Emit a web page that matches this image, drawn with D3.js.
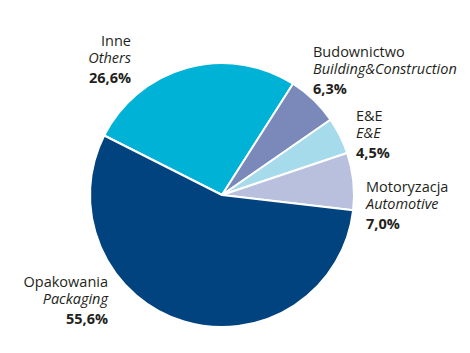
<!DOCTYPE html>
<html>
<head>
<meta charset="utf-8">
<script src="https://cdnjs.cloudflare.com/ajax/libs/d3/7.8.5/d3.min.js"></script>
<style>
body { margin: 0; background: #fff; }
text { font-family: "Open Sans", sans-serif; font-size: 14.5px; fill: #231f20; }
</style>
</head>
<body>
<div id="chart"></div>
<script>
// data (order = clockwise from the Inne slice)
var namesPl = ["Inne", "Budownictwo", "E&E", "Motoryzacja", "Opakowania"];
var namesEn = ["Others", "Building&Construction", "E&E", "Automotive", "Packaging"];
var shares = [26.6, 6.3, 4.5, 7.0, 55.6];
var shareLabels = ["26,6%", "6,3%", "4,5%", "7,0%", "55,6%"];
var colors = ["#00b2d6", "#7a89ba", "#a6dbeb", "#b8c0de", "#00437e"];

var width = 470;
var height = 353;
var cx = 222, cy = 195, radius = 132;

// label anchors: x, first baseline, text-anchor
var labelPos = [
	[131, 46, "end"],
	[313, 57, "start"],
	[356, 121, "start"],
	[366, 192, "start"],
	[108, 287, "end"]
];

var svg = d3.select("#chart")
	.append("svg")
	.attr("width", width)
	.attr("height", height);

var pie = d3.pie()
	.sort(null)
	.value(function(d) { return d; })
	.startAngle(-63.2 * Math.PI / 180)
	.endAngle((360 - 63.2) * Math.PI / 180);

var arc = d3.arc()
	.innerRadius(0)
	.outerRadius(radius);

var g = svg.append("g")
	.attr("transform", "translate(" + cx + "," + cy + ")");

g.selectAll("path")
	.data(pie(shares))
	.enter()
	.append("path")
	.attr("d", arc)
	.attr("fill", function(d, i) { return colors[i]; })
	.attr("stroke", "#fff")
	.attr("stroke-width", 2)
	.attr("stroke-linejoin", "round");

//Labels, three lines each
var labels = svg.selectAll(".lab")
	.data(shares)
	.enter()
	.append("text")
	.attr("class", "lab")
	.attr("text-anchor", function(d, i) { return labelPos[i][2]; });

labels.append("tspan")
	.attr("x", function(d, i) { return labelPos[i][0]; })
	.attr("y", function(d, i) { return labelPos[i][1]; })
	.text(function(d, i) { return namesPl[i]; });

labels.append("tspan")
	.attr("x", function(d, i) { return labelPos[i][0]; })
	.attr("y", function(d, i) { return labelPos[i][1] + 17; })
	.style("font-style", "italic")
	.text(function(d, i) { return namesEn[i]; });

labels.append("tspan")
	.attr("x", function(d, i) { return labelPos[i][0]; })
	.attr("y", function(d, i) { return labelPos[i][1] + 37; })
	.style("font-weight", "bold")
	.text(function(d, i) { return shareLabels[i]; });
</script>
</body>
</html>
